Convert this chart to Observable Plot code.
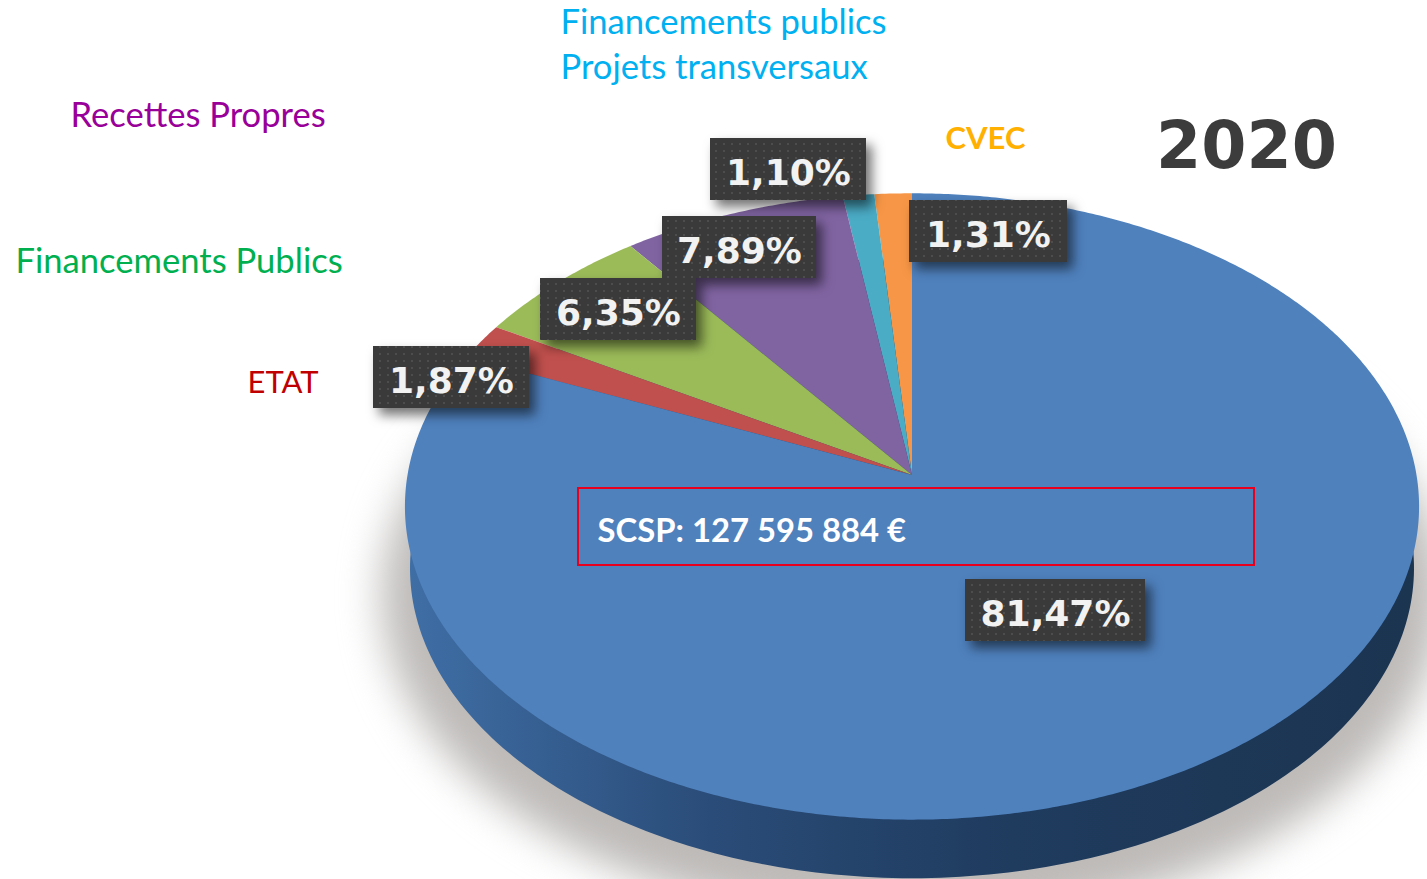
<!DOCTYPE html>
<html lang="fr">
<head>
<meta charset="utf-8">
<script src="https://cdn.jsdelivr.net/npm/d3@7"></script>
<script src="https://cdn.jsdelivr.net/npm/@observablehq/plot@0.6"></script>
<style>
html,body{margin:0;padding:0;background:#fff;overflow:hidden}
svg{display:block}
</style>
</head>
<body>
<div id="chart"></div>
<script>
// --- data (counter-clockwise from 12 o'clock)
const categories = ["CVEC", "Projets transversaux", "Recettes Propres", "Financements Publics", "ETAT", "SCSP"];
const shares = [1.31, 1.10, 7.89, 6.35, 1.87, 81.47];
const shareLabels = ["1,31%", "1,10%", "7,89%", "6,35%", "1,87%", "81,47%"];
const sliceColors = ["#f79646", "#4bacc6", "#8064a2", "#9bbb59", "#c0504d", "#4f81bd"];

// --- layout: pixel centres of the value tags, and the annotation texts
const tagCentres = [[988, 231], [788, 169], [739, 247], [618, 309], [451, 377], [1055, 610]];
const tagHalfWidths = [79, 78, 77, 78, 78, 90];
const annotations = [
  {text: "Financements publics", x: 560, y: 22, color: "#00b0f0", size: 34.6, weight: 400},
  {text: "Projets transversaux", x: 560, y: 67, color: "#00b0f0", size: 34.6, weight: 400},
  {text: "Recettes Propres", x: 70, y: 115, color: "#990099", size: 34.6, weight: 400},
  {text: "Financements Publics", x: 15, y: 261, color: "#00b050", size: 34.6, weight: 400},
  {text: "ETAT", x: 247, y: 383, color: "#c00000", size: 31, weight: 400},
  {text: "CVEC", x: 945, y: 139, color: "#ffb000", size: 31, weight: 700},
  {text: "SCSP: 127 595 884 €", x: 597, y: 531, color: "#ffffff", size: 32.8, weight: 700}
];

// --- tilted disc: unit circle seen in perspective
const apex = [912, 475], radii = [504.5, 310], tilt = 0.1005;
const ux = (px) => (px - apex[0]) / radii[0];
const uy = (py) => (py - apex[1]) / radii[1];
const rim = (deg, k = 1) => {
  const a = deg * Math.PI / 180, X = -Math.sin(a), Y = -Math.cos(a), w = 1 - tilt * Y;
  return {x: k * X / w, y: k * Y / w};
};

const total = d3.sum(shares);
let cum = 0;
const slicePoints = [];
categories.forEach((category, i) => {
  const a0 = cum / total * 360, a1 = (cum + shares[i]) / total * 360;
  cum += shares[i];
  const n = Math.max(2, Math.ceil((a1 - a0) / 0.5));
  for (let j = 0; j <= n; ++j) {
    const p = rim(a0 + (a1 - a0) * j / n);
    slicePoints.push({category, x1: 0, y1: 0, x2: p.x, y2: p.y});
  }
});
const discAt = (k) => d3.range(0, 360.5, 1).map((d) => {
  const p = rim(d, k);
  return {x1: 0, y1: 0, x2: p.x, y2: p.y};
});

const tags = shareLabels.map((label, i) => ({
  label,
  x: ux(tagCentres[i][0]), y: uy(tagCentres[i][1]),
  x1: ux(tagCentres[i][0] - tagHalfWidths[i]), x2: ux(tagCentres[i][0] + tagHalfWidths[i]),
  y1: uy(tagCentres[i][1] - 31), y2: uy(tagCentres[i][1] + 31)
}));

const defs = () => d3.create("svg:g").html(`
  <defs>
    <linearGradient id="sideGrad" x1="0" x2="1" y1="0" y2="0">
      <stop offset="0" stop-color="#3f6ea5"/>
      <stop offset="0.3" stop-color="#2a4c78"/>
      <stop offset="0.6" stop-color="#1f3b5e"/>
      <stop offset="1" stop-color="#1b3450"/>
    </linearGradient>
    <pattern id="speck" width="8" height="7" patternUnits="userSpaceOnUse">
      <rect width="8" height="7" fill="#3a3a3a"/>
      <rect x="3" y="3" width="2" height="2" fill="#4d4d4d"/>
    </pattern>
  </defs>`).node();

const textMark = (d) => Plot.text([d], {
  x: ux(d.x), y: uy(d.y), text: "text", textAnchor: "start", fill: d.color,
  fontSize: d.size, fontWeight: d.weight, fontFamily: "Lato"
});

const chart = Plot.plot({
  width: 1427,
  height: 879,
  margin: 0,
  x: {domain: [-1, 1], range: [apex[0] - radii[0], apex[0] + radii[0]], axis: null},
  y: {domain: [-1, 1], range: [apex[1] - radii[1], apex[1] + radii[1]], axis: null},
  color: {domain: categories, range: sliceColors},
  marks: [
    defs,
    Plot.area(discAt(1.045), {x1: "x1", y1: "y1", x2: "x2", y2: "y2", fill: "#bdbab8", dy: 88, imageFilter: "blur(20px)"}),
    Plot.area(discAt(0.99), {x1: "x1", y1: "y1", x2: "x2", y2: "y2", fill: "url(#sideGrad)", dy: 62}),
    Plot.area(slicePoints, {x1: "x1", y1: "y1", x2: "x2", y2: "y2", z: "category", fill: "category"}),
    Plot.rect(tags, {x1: "x1", x2: "x2", y1: "y1", y2: "y2", fill: "url(#speck)", imageFilter: "drop-shadow(6px 7px 6px rgba(0,0,0,.55))"}),
    Plot.text(tags, {x: "x", y: "y", text: "label", fill: "#f2f2f2", fontFamily: "DejaVu Sans", fontWeight: 700, fontSize: 36, dy: 4}),
    Plot.rect([{}], {x1: ux(578), x2: ux(1254), y1: uy(488), y2: uy(565), fill: "none", stroke: "#e8001c", strokeWidth: 2}),
    ...annotations.map(textMark),
    Plot.text(["2020"], {x: ux(1246), y: uy(147), text: (d) => d, fill: "#3c3c3c", fontFamily: "DejaVu Sans", fontWeight: 700, fontSize: 65})
  ]
});
document.getElementById("chart").append(chart);
</script>
</body>
</html>
